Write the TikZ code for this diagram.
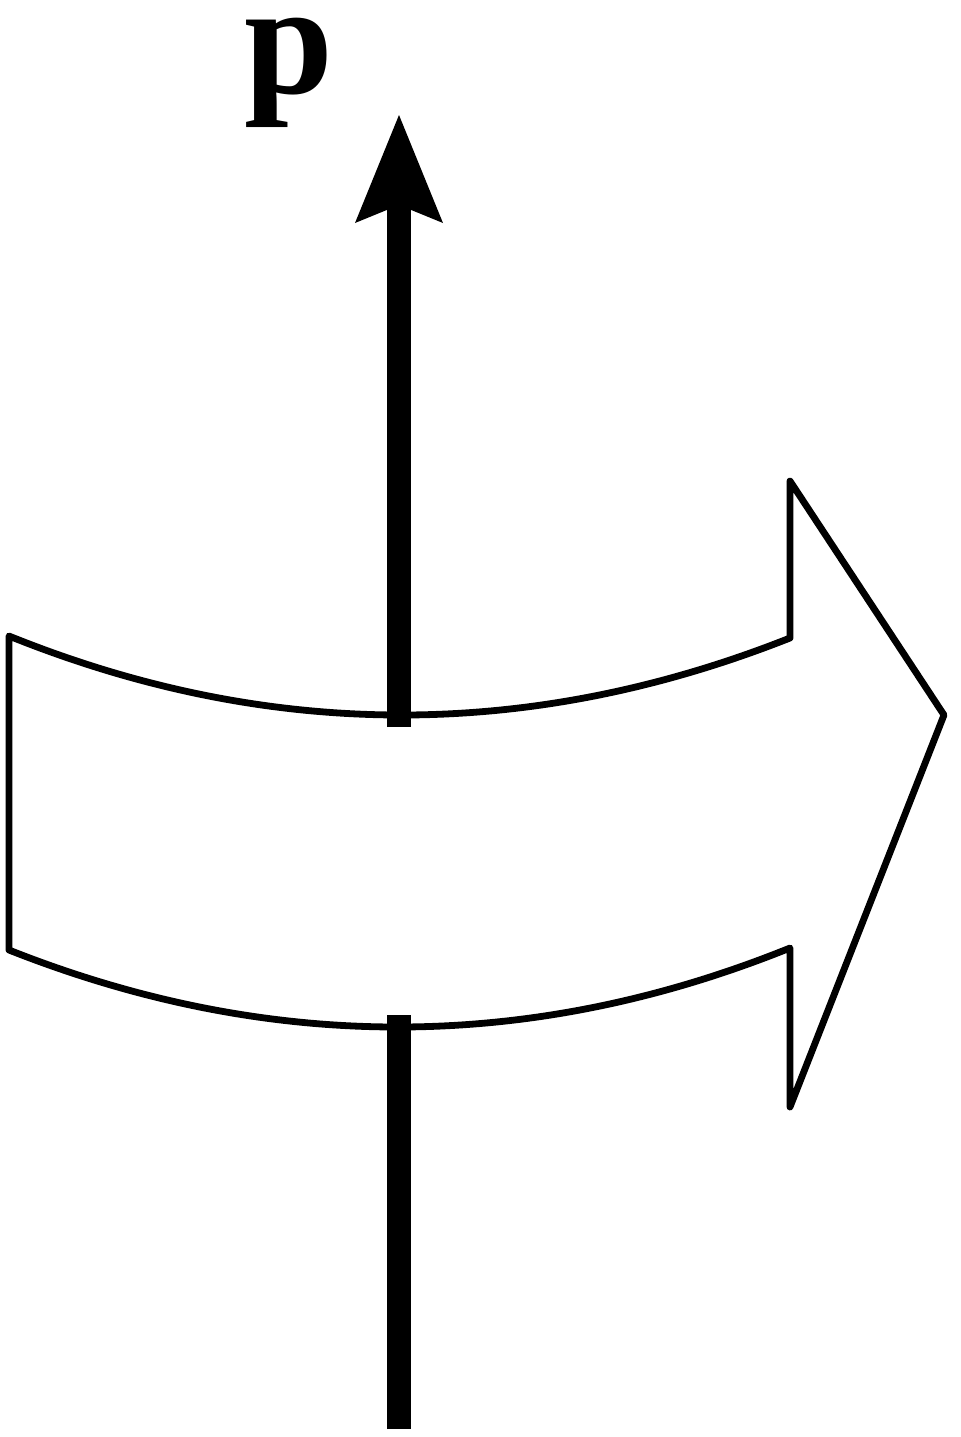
\documentclass[tikz,border=0pt]{standalone}
\usepackage{fontspec}
\newfontfamily\labelfont{Liberation Serif}
\begin{document}
\begin{tikzpicture}[x=0.5pt,y=-0.5pt,
  outline/.style={line width=3.4pt,line join=round},
  shaft/.style={line width=12pt,line cap=butt}]
\useasboundingbox (0,0) rectangle (960,1437);
% coordinates
\coordinate (ul) at (9,636);
\coordinate (ur) at (790,638);
\coordinate (ht) at (790,481);
\coordinate (tip) at (944,715);
\coordinate (hb) at (790,1107);
\coordinate (lr) at (790,948);
\coordinate (ll) at (9,950);
% big curved arrow outline
\draw[outline] (ul) .. controls (269,741) and (530,741) .. (ur)
  -- (ht) -- (tip) -- (hb) -- (lr)
  .. controls (530,1053) and (269,1053) .. (ll) -- cycle;
% momentum vector
\coordinate (ptop) at (399,205);
\coordinate (pbot) at (399,727);
\coordinate (qtop) at (399,1015);
\coordinate (qbot) at (399,1429);
\draw[shaft] (pbot) -- (ptop);
\draw[shaft] (qbot) -- (qtop);
\fill (399,115) -- (443,223) -- (399,205) -- (355,223) -- cycle;
\node[anchor=base,inner sep=0pt,text height=0.5em,text depth=0.25em,
  font={\labelfont\bfseries\fontsize{80}{90}\selectfont}] (plabel) at (289,93) {p};
\end{tikzpicture}
\end{document}
